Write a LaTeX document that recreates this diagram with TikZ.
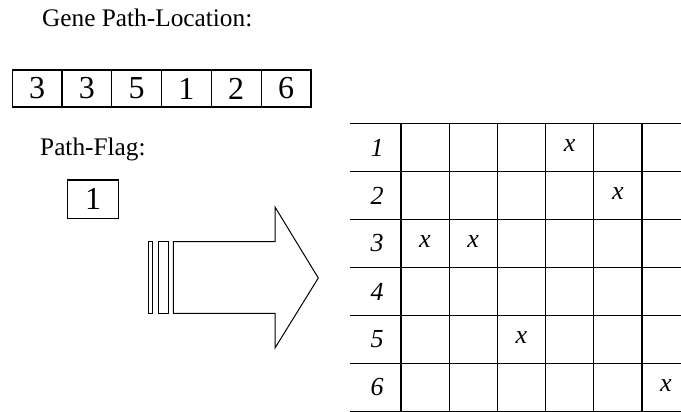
\documentclass[tikz,border=0pt]{standalone}
\usepackage{fontspec}
\setmainfont{Liberation Serif}

\begin{document}
\begin{tikzpicture}[
    x=1pt, y=-1pt,
    caption/.style={
        anchor=base west,
        inner sep=0pt,
        font=\fontsize{25.3}{29}\selectfont
    },
    cell/.style={
        rectangle,
        draw=black,
        line width=1.2pt,
        minimum width=49.8pt,
        minimum height=37pt,
        inner sep=0pt,
        font=\fontsize{32}{36}\selectfont
    },
    flagbox/.style={
        cell,
        minimum width=51pt,
        minimum height=38.7pt
    },
    gridline/.style={line width=1.2pt},
    rowlabel/.style={inner sep=0pt, font=\fontsize{26}{29}\selectfont\itshape},
    hit/.style={inner sep=0pt, font=\fontsize{26}{29}\selectfont\itshape},
    bigarrow/.style={draw=black, line width=1pt, line join=miter}
]
\useasboundingbox (0,0) rectangle (681,412);

\node[caption] (genetitle) at (42,27) {Gene Path-Location:};

\foreach \g [count=\i] in {3,3,5,1,2,6}
    \node[cell] (gene\i) at ({37+49.8*(\i-1)},88.5) {\g};

\node[caption] (flagtitle) at (40,155) {Path-Flag:};
\node[flagbox] (flag) at (93.2,199.3) {1};

% arrow with two bars
\draw[bigarrow] (148.3,241.7) rectangle (152.7,313.3);
\draw[bigarrow] (158.3,241.7) rectangle (168.3,313.3);
\draw[bigarrow] (173.3,241.7) -- (275,241.7) -- (275,207) -- (318.3,278)
    -- (275,348) -- (275,313.3) -- (173.3,313.3) -- cycle;

% location grid
\foreach \r in {0,...,6}
    \draw[gridline] (350,{123.5+48*\r}) -- (681,{123.5+48*\r});
\foreach \c in {0,...,5}
    \draw[gridline] ({401+48.2*\c},123.5) -- ({401+48.2*\c},412);

\foreach \r in {1,...,6}
    \node[rowlabel] (row\r) at (377,{123.5+48*(\r-0.5)}) {\r};

\foreach \g [count=\c] in {3,3,5,1,2,6}
    \node[hit] (hit\c) at ({425+48.2*(\c-1)},{122+48*(\g-0.5)}) {x};

\end{tikzpicture}
\end{document}
